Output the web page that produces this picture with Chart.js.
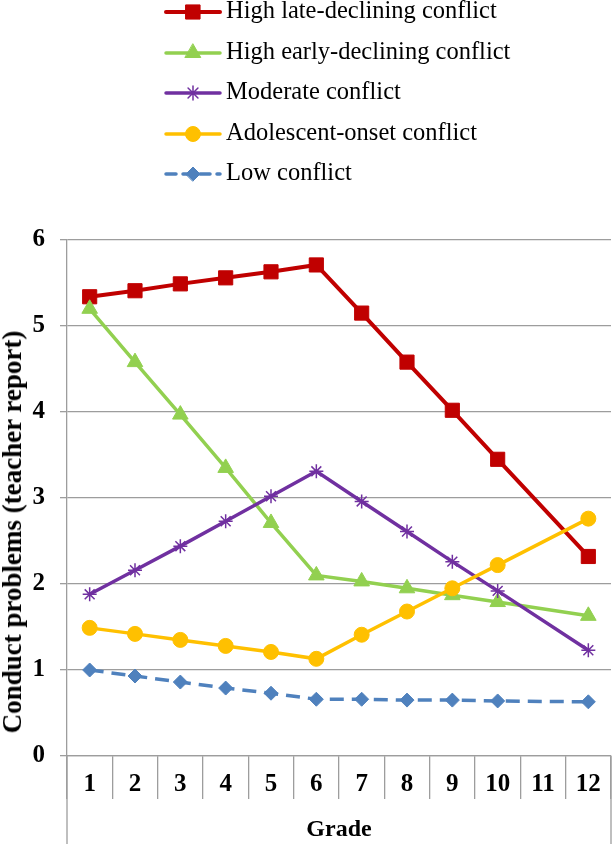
<!DOCTYPE html>
<html>
<head>
<meta charset="utf-8">
<script src="https://cdn.jsdelivr.net/npm/chart.js@4"></script>
<style>
  html, body { margin: 0; padding: 0; background: #fff; }
  #wrap { position: relative; width: 612px; height: 844px; }
  #chart { position: absolute; left: 0; top: 0; }
  #legend { position: absolute; left: 160px; top: 0; font-family: 'Liberation Serif', 'Times New Roman', serif; font-size: 24.5px; color: #000; }
  .item { position: absolute; left: 0; height: 28px; white-space: nowrap; }
  .item canvas { position: absolute; left: 0; top: 0; }
  .item span { position: absolute; left: 66px; top: -4px; line-height: 28px; }
  #ytitle { position: absolute; left: 0; top: 0; white-space: nowrap; font-family: 'Liberation Serif', 'Times New Roman', serif;
    font-size: 27px; font-weight: bold; line-height: 30px; color: #000; transform-origin: 0 0;
    transform: translate(12px, 532px) rotate(-90deg) translate(-50%, -50%); }
</style>
</head>
<body>
<div id="wrap">
  <canvas id="chart" width="612" height="844"></canvas>
  <div id="legend"></div>
  <div id="ytitle"></div>
</div>
<script>
// grades on the x axis (no measurement at grade 11)
const grades = ['1', '2', '3', '4', '5', '6', '7', '8', '9', '10', '11', '12'];

const highLate  = [5.34, 5.41, 5.49, 5.56, 5.63, 5.71, 5.15, 4.58, 4.02, 3.45, null, 2.32];
const highEarly = [5.20, 4.58, 3.97, 3.35, 2.71, 2.10, 2.03, 1.95, 1.87, 1.79, null, 1.63];
const moderate  = [1.88, 2.16, 2.44, 2.73, 3.02, 3.31, 2.96, 2.61, 2.26, 1.92, null, 1.23];
const adolOnset = [1.49, 1.42, 1.35, 1.28, 1.21, 1.13, 1.41, 1.68, 1.95, 2.22, null, 2.76];
const lowConf   = [1.00, 0.93, 0.86, 0.79, 0.73, 0.66, 0.66, 0.65, 0.65, 0.64, null, 0.63];

const yTicks = [0, 1, 2, 3, 4, 5, 6];
const yTitle = 'Conduct problems (teacher report)';
const xTitle = 'Grade';

const gridColor = '#9d9d9d';
const serif = "'Liberation Serif', 'Times New Roman', serif";

const datasets = [
  { label: 'High late-declining conflict', data: highLate, borderColor: '#C00000', backgroundColor: '#C00000',
    pointStyle: 'rect', pointRadius: 10, borderWidth: 4, order: 5 },
  { label: 'High early-declining conflict', data: highEarly, borderColor: '#92D050', backgroundColor: '#92D050',
    pointStyle: 'triangle', pointRadius: 9, borderWidth: 3.5, order: 4 },
  { label: 'Moderate conflict', data: moderate, borderColor: '#7030A0', backgroundColor: '#7030A0',
    pointStyle: 'star', pointRadius: 7, pointBorderWidth: 1.5, borderWidth: 3.5, order: 3 },
  { label: 'Adolescent-onset conflict', data: adolOnset, borderColor: '#FFC000', backgroundColor: '#FFC000',
    pointStyle: 'circle', pointRadius: 7.5, borderWidth: 3.5, order: 2 },
  { label: 'Low conflict', data: lowConf, borderColor: '#4F81BD', backgroundColor: '#4F81BD',
    pointStyle: 'rectRot', pointRadius: 7, borderWidth: 3.5, borderDash: [14, 8], order: 1 }
];

datasets.forEach(ds => {
  ds.pointBackgroundColor = ds.backgroundColor;
  ds.pointBorderColor = ds.borderColor;
  if (ds.pointBorderWidth === undefined) ds.pointBorderWidth = 1;
  ds.spanGaps = true;
  ds.tension = 0;
  ds.fill = false;
  ds.clip = false;
});

// extend the y axis line and the right border below the plot, Excel style
const frameLines = {
  id: 'frameLines',
  afterDraw(chart) {
    const { ctx, chartArea } = chart;
    ctx.save();
    ctx.strokeStyle = gridColor;
    ctx.lineWidth = 1.3;
    ctx.beginPath();
    ctx.moveTo(chartArea.left, chartArea.bottom);
    ctx.lineTo(chartArea.left, chart.height);
    ctx.moveTo(chartArea.right, chartArea.bottom);
    ctx.lineTo(chartArea.right, chart.height);
    ctx.stroke();
    ctx.restore();
  }
};

const chart = new Chart(document.getElementById('chart').getContext('2d'), {
  type: 'line',
  data: { labels: grades, datasets },
  options: {
    responsive: false,
    animation: false,
    layout: { autoPadding: false, padding: { top: 240, right: 1, left: 0, bottom: 0 } },
    plugins: { legend: { display: false }, tooltip: { enabled: false } },
    scales: {
      x: {
        offset: true,
        grid: { offset: true, drawOnChartArea: false, tickLength: 43, color: gridColor, lineWidth: 1.3 },
        border: { color: gridColor, width: 1.3 },
        ticks: { padding: -29, color: '#000', font: { family: serif, size: 25, weight: 'bold' }, maxRotation: 0, autoSkip: false },
        title: { display: true, text: xTitle, color: '#000', font: { family: serif, size: 24, weight: 'bold' }, padding: { top: 0, bottom: 0 } },
        afterFit: s => { s.height = 88; s.paddingLeft = 0; s.paddingRight = 0; }
      },
      y: {
        min: 0, max: 6,
        afterBuildTicks: s => { s.ticks = yTicks.map(v => ({ value: v })); },
        grid: { color: gridColor, lineWidth: 1.3, tickLength: 7 },
        border: { color: gridColor, width: 1.3 },
        ticks: { padding: 15, color: '#000', font: { family: serif, size: 25, weight: 'bold' } },
        afterFit: s => { s.width = 67; s.paddingTop = 0; s.paddingBottom = 0; }
      }
    }
  },
  plugins: [frameLines]
});

// y axis title sits a little below the plot's middle, as in the source
document.getElementById('ytitle').textContent = yTitle;

// legend: one row per series, line + marker + label
const legend = document.getElementById('legend');
chart.data.datasets.forEach((ds, i) => {
  const item = document.createElement('div');
  item.className = 'item';
  item.style.top = (i * 40.5) + 'px';
  const c = document.createElement('canvas');
  c.width = 62; c.height = 28;
  const g = c.getContext('2d');
  g.strokeStyle = ds.borderColor;
  g.lineWidth = ds.borderWidth;
  g.lineCap = 'round';
  if (ds.borderDash) g.setLineDash([10, 7]);
  g.beginPath();
  g.moveTo(6, 12);
  g.lineTo(60, 12);
  g.stroke();
  g.setLineDash([]);
  g.fillStyle = ds.backgroundColor;
  g.strokeStyle = ds.borderColor;
  g.lineWidth = ds.pointBorderWidth;
  Chart.helpers.drawPoint(g, { pointStyle: ds.pointStyle, radius: ds.pointRadius, rotation: 0, borderWidth: ds.pointBorderWidth }, 33, 12);
  const t = document.createElement('span');
  t.textContent = ds.label;
  item.appendChild(c);
  item.appendChild(t);
  legend.appendChild(item);
});
</script>
</body>
</html>
